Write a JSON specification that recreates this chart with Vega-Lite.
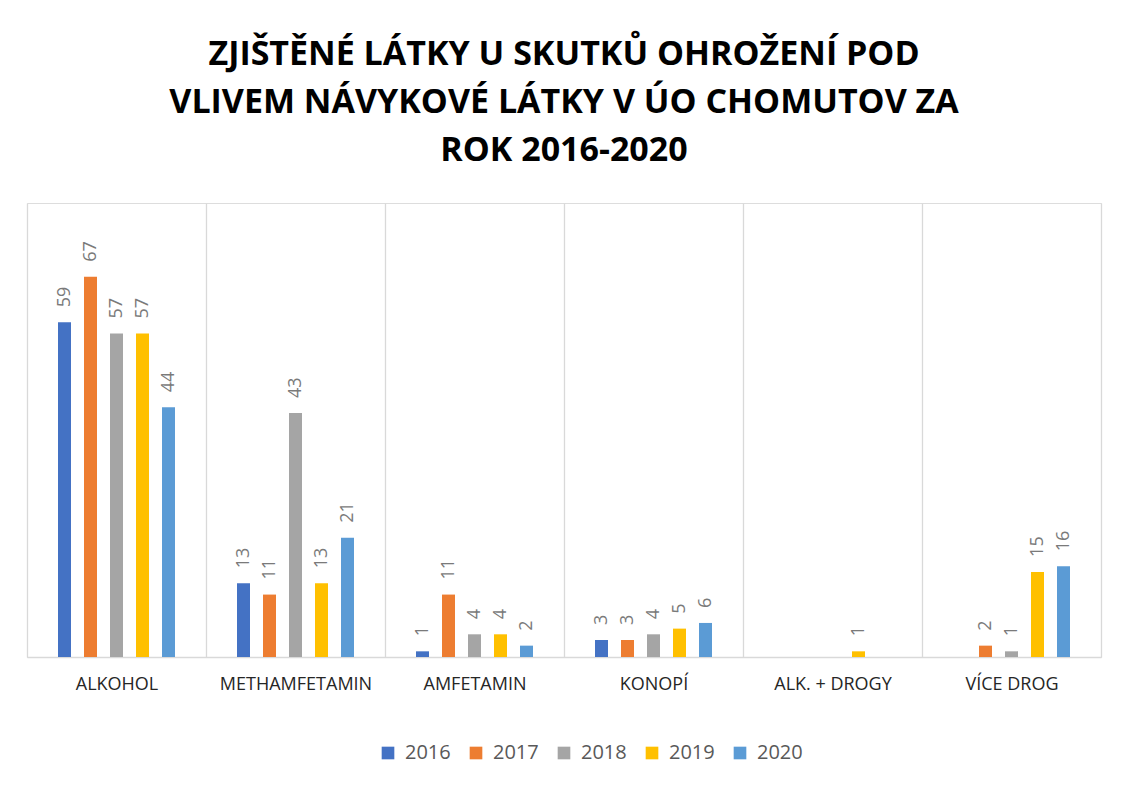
{
  "$schema": "https://vega.github.io/schema/vega-lite/v6.json",
  "width": 1074,
  "height": 454,
  "autosize": {"type": "none"},
  "padding": {"left": 27, "top": 203, "right": 29, "bottom": 130},
  "background": "white",
  "title": {
    "text": ["ZJIŠTĚNÉ LÁTKY U SKUTKŮ OHROŽENÍ POD", "VLIVEM NÁVYKOVÉ LÁTKY V ÚO CHOMUTOV ZA", "ROK 2016-2020"],
    "font": "Open Sans",
    "fontSize": 34,
    "fontWeight": "bold",
    "color": "#000000",
    "lineHeight": 48,
    "anchor": "middle",
    "offset": 35
  },
  "data": {
    "values": [
      {"kategorie": "ALKOHOL", "rok": "2016", "pocet": 59},
      {"kategorie": "ALKOHOL", "rok": "2017", "pocet": 67},
      {"kategorie": "ALKOHOL", "rok": "2018", "pocet": 57},
      {"kategorie": "ALKOHOL", "rok": "2019", "pocet": 57},
      {"kategorie": "ALKOHOL", "rok": "2020", "pocet": 44},
      {"kategorie": "METHAMFETAMIN", "rok": "2016", "pocet": 13},
      {"kategorie": "METHAMFETAMIN", "rok": "2017", "pocet": 11},
      {"kategorie": "METHAMFETAMIN", "rok": "2018", "pocet": 43},
      {"kategorie": "METHAMFETAMIN", "rok": "2019", "pocet": 13},
      {"kategorie": "METHAMFETAMIN", "rok": "2020", "pocet": 21},
      {"kategorie": "AMFETAMIN", "rok": "2016", "pocet": 1},
      {"kategorie": "AMFETAMIN", "rok": "2017", "pocet": 11},
      {"kategorie": "AMFETAMIN", "rok": "2018", "pocet": 4},
      {"kategorie": "AMFETAMIN", "rok": "2019", "pocet": 4},
      {"kategorie": "AMFETAMIN", "rok": "2020", "pocet": 2},
      {"kategorie": "KONOPÍ", "rok": "2016", "pocet": 3},
      {"kategorie": "KONOPÍ", "rok": "2017", "pocet": 3},
      {"kategorie": "KONOPÍ", "rok": "2018", "pocet": 4},
      {"kategorie": "KONOPÍ", "rok": "2019", "pocet": 5},
      {"kategorie": "KONOPÍ", "rok": "2020", "pocet": 6},
      {"kategorie": "ALK. + DROGY", "rok": "2016", "pocet": 0},
      {"kategorie": "ALK. + DROGY", "rok": "2017", "pocet": 0},
      {"kategorie": "ALK. + DROGY", "rok": "2018", "pocet": 0},
      {"kategorie": "ALK. + DROGY", "rok": "2019", "pocet": 1},
      {"kategorie": "ALK. + DROGY", "rok": "2020", "pocet": 0},
      {"kategorie": "VÍCE DROG", "rok": "2016", "pocet": 0},
      {"kategorie": "VÍCE DROG", "rok": "2017", "pocet": 2},
      {"kategorie": "VÍCE DROG", "rok": "2018", "pocet": 1},
      {"kategorie": "VÍCE DROG", "rok": "2019", "pocet": 15},
      {"kategorie": "VÍCE DROG", "rok": "2020", "pocet": 16}
    ]
  },
  "encoding": {
    "x": {
      "field": "kategorie",
      "type": "nominal",
      "sort": ["ALKOHOL", "METHAMFETAMIN", "AMFETAMIN", "KONOPÍ", "ALK. + DROGY", "VÍCE DROG"],
      "scale": {"paddingInner": 0, "paddingOuter": 0},
      "axis": {
        "title": null,
        "labelAngle": 0,
        "labelFont": "Open Sans",
        "labelFontSize": 18,
        "labelColor": "#262626",
        "labelPadding": 18,
        "labelOverlap": false,
        "labelLimit": 400,
        "ticks": false,
        "tickBand": "extent",
        "grid": true,
        "gridColor": "#d9d9d9",
        "gridWidth": 1.3,
        "domainColor": "#d9d9d9",
        "domainWidth": 1.3
      }
    },
    "xOffset": {
      "field": "rok",
      "type": "nominal",
      "scale": {"range": [31, 148], "paddingInner": 0.5, "paddingOuter": 0}
    },
    "y": {
      "field": "pocet",
      "type": "quantitative",
      "scale": {"domain": [0, 80]},
      "axis": null
    }
  },
  "layer": [
    {
      "mark": {"type": "bar"},
      "encoding": {
        "color": {
          "field": "rok",
          "type": "nominal",
          "scale": {
            "domain": ["2016", "2017", "2018", "2019", "2020"],
            "range": ["#4472c4", "#ed7d31", "#a5a5a5", "#ffc000", "#5b9bd5"]
          },
          "legend": {
            "title": null,
            "orient": "none",
            "direction": "horizontal",
            "legendX": 351,
            "legendY": 540,
            "symbolType": "square",
            "symbolSize": 160,
            "symbolStrokeWidth": 0,
            "labelFont": "Open Sans",
            "labelFontSize": 20,
            "labelColor": "#595959",
            "labelOffset": 7,
            "columnPadding": 15
          }
        }
      }
    },
    {
      "transform": [{"filter": "datum.pocet > 0"}],
      "mark": {
        "type": "text",
        "angle": -90,
        "align": "left",
        "baseline": "middle",
        "dx": 15,
        "font": "Open Sans",
        "fontSize": 18,
        "color": "#7a7a7a"
      },
      "encoding": {
        "text": {"field": "pocet", "type": "quantitative"}
      }
    }
  ]
}
